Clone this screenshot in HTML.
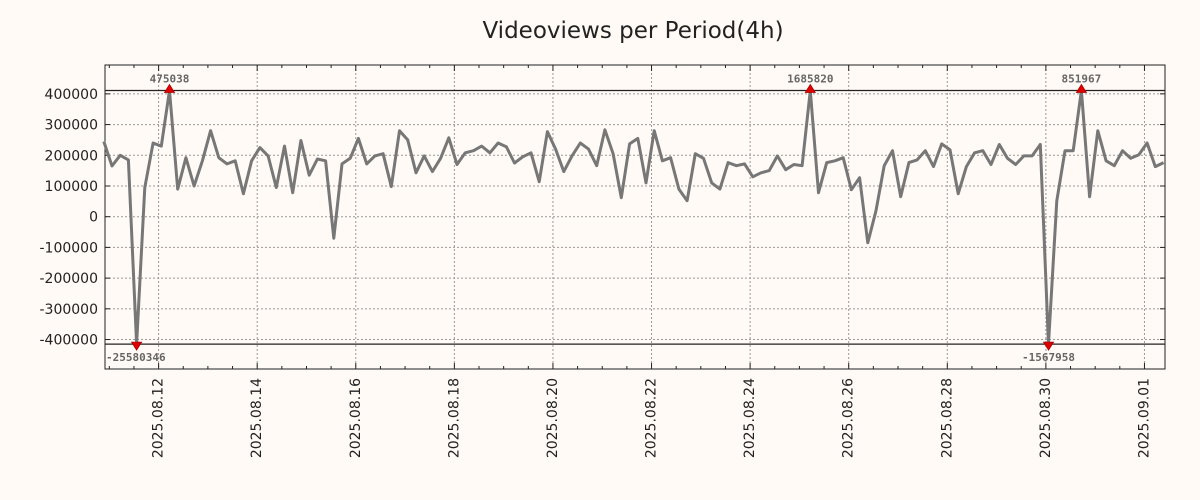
<!DOCTYPE html>
<html><head><meta charset="utf-8"><style>
html,body{margin:0;padding:0;background:#fffaf5;}
svg{display:block;font-family:"DejaVu Sans","Liberation Sans",sans-serif;}
</style></head><body>
<svg id="chart" width="1200" height="500" viewBox="0 0 1200 500" xmlns="http://www.w3.org/2000/svg">
<rect x="0" y="0" width="1200" height="500" fill="#fffaf5"/>
<text x="633" y="38" font-size="23" text-anchor="middle" fill="#222">Videoviews per Period(4h)</text>
<g id="grid"></g><g id="axes"></g><g id="series"></g><g id="marks"></g>
</svg>
<script>
// hours since 2025.08.12 00:00 of first sample; step 4h
const startHour = -26.7;
const stepHours = 4;
const values = [245000,165000,200000,185000,-25580346,95000,240000,230000,475038,90000,192000,100000,182000,280000,192000,172000,182000,75000,182000,225000,198000,95000,230000,78000,248000,135000,188000,182000,-70000,172000,190000,255000,172000,198000,205000,98000,280000,250000,143000,198000,147000,190000,257000,170000,208000,215000,230000,208000,240000,228000,175000,195000,208000,114000,277000,220000,147000,198000,240000,220000,166000,283000,205000,62000,237000,255000,110000,280000,182000,192000,90000,52000,205000,190000,110000,90000,176000,166000,172000,130000,143000,150000,198000,153000,170000,166000,1685820,78000,176000,182000,192000,88000,127000,-85000,20000,166000,215000,65000,176000,185000,215000,163000,237000,218000,75000,163000,208000,215000,170000,235000,190000,170000,198000,198000,235000,-1567958,52000,215000,215000,851967,65000,280000,182000,166000,215000,190000,202000,240000,163000,176000];
const yTicks = [400000,300000,200000,100000,0,-100000,-200000,-300000,-400000];
const xTickLabels = ["2025.08.12","2025.08.14","2025.08.16","2025.08.18","2025.08.20","2025.08.22","2025.08.24","2025.08.26","2025.08.28","2025.08.30","2025.09.01"];
const clipMax = 411000, clipMin = -415000;

const L=105,R=1165,T=65,B=369;
const yMin=-496000,yMax=494000;
const xMinH=-26.1,xMaxH=490;
const X=h=>L+(h-xMinH)/(xMaxH-xMinH)*(R-L);
const Y=v=>B-(v-yMin)/(yMax-yMin)*(B-T);
const NS="http://www.w3.org/2000/svg";
function mk(tag,attrs,parent,text){const e=document.createElementNS(NS,tag);for(const k in attrs)e.setAttribute(k,attrs[k]);if(text!==undefined)e.textContent=text;document.getElementById(parent).appendChild(e);return e;}

yTicks.forEach(v=>{
  const y=Y(v);
  const g=mk('line',{x1:L,x2:R,y1:y,y2:y,stroke:'#999','stroke-dasharray':'2,2','stroke-width':1},'grid');
  
  
  mk('line',{x1:L,x2:L+5,y1:y,y2:y,stroke:'#222'},'axes');
  mk('line',{x1:R-5,x2:R,y1:y,y2:y,stroke:'#222'},'axes');
  const t=mk('text',{x:98,y:y+5,'font-size':14,'text-anchor':'end',fill:'#222'},'axes',String(v));
  
  
});
xTickLabels.forEach((lab,i)=>{
  const x=X(i*48);
  const g=mk('line',{x1:x,x2:x,y1:T,y2:B,stroke:'#999','stroke-dasharray':'2,2','stroke-width':1},'grid');
  
  
  mk('line',{x1:x,x2:x,y1:B-6,y2:B,stroke:'#222'},'axes');
  mk('line',{x1:x,x2:x,y1:T,y2:T+6,stroke:'#222'},'axes');
  const t=mk('text',{x:0,y:0,'font-size':14,'text-anchor':'end',fill:'#222',transform:`translate(${x+4},378) rotate(-90)`},'axes',lab);
  
  
});
for(let h=-24;h<=xMaxH;h+=12){ if(h%48===0)continue; const x=X(h); if(x<L||x>R)continue;
  mk('line',{x1:x,x2:x,y1:B-3,y2:B,stroke:'#222'},'axes');
  mk('line',{x1:x,x2:x,y1:T,y2:T+3,stroke:'#222'},'axes');}
const fr=mk('rect',{x:L,y:T,width:R-L,height:B-T,fill:'none',stroke:'#222','stroke-width':1},'axes');


[clipMax,clipMin].forEach(v=>{const l=mk('line',{x1:L,x2:R,y1:Y(v),y2:Y(v),stroke:'#222','stroke-width':1.3},'axes');
  
  });
const pts=values.map((v,i)=>[X(startHour+i*stepHours),Y(Math.max(clipMin,Math.min(clipMax,v)))]);
const p=mk('polyline',{points:pts.map(q=>q[0].toFixed(1)+','+q[1].toFixed(1)).join(' '),fill:'none',stroke:'#777','stroke-width':3,'stroke-linejoin':'round'},'series');


values.forEach((v,i)=>{
  if(v<=clipMax&&v>=clipMin)return;
  const x=pts[i][0],y=pts[i][1],up=v>clipMax;
  const tri=up?`${x-5},${y+2} ${x+5},${y+2} ${x},${y-6}`:`${x-5},${y-2} ${x+5},${y-2} ${x},${y+6}`;
  const m=mk('polygon',{points:tri,fill:'#e00000',stroke:'#a00','stroke-width':0.8},'marks');
  
  
  const t=mk('text',{x:x,y:up?y-8:y+17,'font-size':11,'font-weight':'bold','text-anchor':'middle',fill:'#666','font-family':'"DejaVu Sans Mono","Liberation Mono",monospace'},'marks',String(Math.round(v)));
  if(x-L<40&&!up){t.setAttribute('text-anchor','start');t.setAttribute('x',L+1);}
  
  
});
</script>
</body></html>
